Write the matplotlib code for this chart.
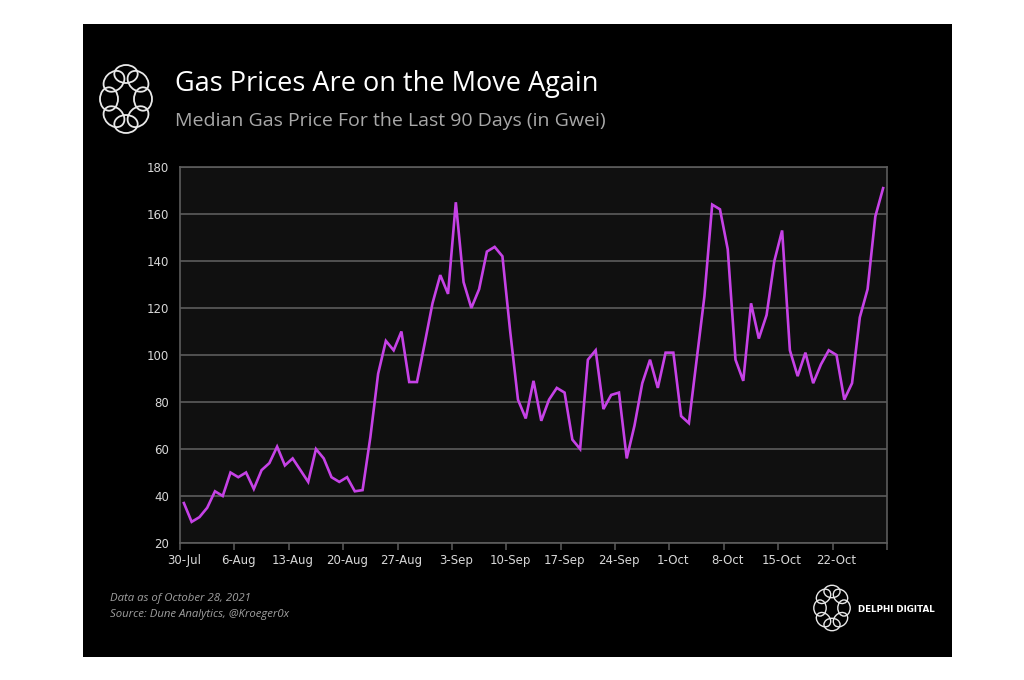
import numpy as np
import matplotlib
matplotlib.use("Agg")
import matplotlib.pyplot as plt
from matplotlib.patches import Rectangle, Ellipse

# median gas price (gwei), one value per day from 30-Jul to 28-Oct 2021
gas_price = [37, 29, 31, 35, 42, 40, 50, 48, 50, 43,
             51, 54, 61, 53, 56, 51, 46, 60, 56, 48,
             46, 48, 42, 42.5, 65, 92, 106, 102, 110, 88.5,
             88.5, 105, 122, 134, 126, 165, 131, 120, 128, 144,
             146, 142, 110, 81, 73, 89, 72, 81, 86, 84,
             64, 60, 98, 102, 77, 83, 84, 56, 70, 88,
             98, 86, 101, 101, 74, 71, 98, 125, 164, 162,
             145, 98, 89, 122, 107, 117, 140, 153, 102, 91,
             101, 88, 96, 102, 100, 81, 88, 116, 128, 159,
             171]
week_labels = ["30-Jul", "6-Aug", "13-Aug", "20-Aug", "27-Aug", "3-Sep", "10-Sep",
               "17-Sep", "24-Sep", "1-Oct", "8-Oct", "15-Oct", "22-Oct"]
y_ticks = [20, 40, 60, 80, 100, 120, 140, 160, 180]

W, H = 1024, 680
fig = plt.figure(figsize=(W / 100, H / 100), dpi=100, facecolor="white")

# black card behind everything
fig.patches.append(Rectangle((83 / W, 1 - 657 / H), (952 - 83) / W, (657 - 24) / H,
                             transform=fig.transFigure, facecolor="black",
                             edgecolor="none", zorder=-5))

ax = fig.add_axes([180 / W, 1 - 543 / H, (887 - 180) / W, (543 - 167) / H])
ax.set_facecolor("#101010")
x = np.arange(len(gas_price))
ax.plot(x, gas_price, color="#C642E6", lw=1.9, solid_joinstyle="miter", zorder=3)

ax.set_xlim(-0.5, len(gas_price) - 0.5)
ax.set_ylim(20, 180)
ax.set_yticks(y_ticks)
ax.set_yticklabels([str(v) for v in y_ticks])
ax.yaxis.grid(True, color="#5c5c5c", lw=1.2)
ax.set_axisbelow(True)

week_pos = np.arange(0, len(gas_price), 7)[:len(week_labels)]
ax.set_xticks(week_pos)
ax.set_xticklabels(week_labels)
ax.set_xticks(np.append(week_pos - 0.5, len(gas_price) - 0.5), minor=True)
ax.tick_params(axis="x", which="major", length=0, pad=8, colors="#d8d8d8", labelsize=8.5)
ax.tick_params(axis="x", which="minor", length=5, width=1.1, color="#5c5c5c")
ax.tick_params(axis="y", length=0, pad=8, colors="#d8d8d8", labelsize=8.5)
for s in ax.spines.values():
    s.set_color("#5c5c5c")
    s.set_linewidth(1.2)


def draw_logo(cx, cy, rx, ry, r, lw):
    pad = r + 3
    lax = fig.add_axes([(cx - rx - pad) / W, 1 - (cy + ry + pad) / H,
                        2 * (rx + pad) / W, 2 * (ry + pad) / H])
    lax.set_xlim(-rx - pad, rx + pad)
    lax.set_ylim(-ry - pad, ry + pad)
    lax.axis("off")
    # ring of interlaced loops
    for a in np.linspace(0, 2 * np.pi, 8, endpoint=False):
        lax.add_patch(Ellipse((rx * np.cos(a), ry * np.sin(a)), 2 * r, 2 * r * 1.3,
                              angle=np.degrees(a), facecolor="none",
                              edgecolor="#e8e8e8", lw=lw))


draw_logo(126, 99, 17, 25, 9, 1.3)
draw_logo(832, 608, 12, 16.5, 6.2, 1.0)

fig.text(175 / W, 1 - 84 / H, "Gas Prices Are on the Move Again", color="white",
         fontsize=19.5, family="Open Sans", va="center", ha="left")
fig.text(175 / W, 1 - 121 / H, "Median Gas Price For the Last 90 Days (in Gwei)",
         color="#a8a8a8", fontsize=14, family="Open Sans", va="center", ha="left")

fig.text(110 / W, 1 - 599 / H, "Data as of October 28, 2021", color="#a0a0a0",
         fontsize=8.2, style="italic", family="Open Sans", va="center")
fig.text(110 / W, 1 - 614 / H, "Source: Dune Analytics, @Kroeger0x", color="#a0a0a0",
         fontsize=8.2, style="italic", family="Open Sans", va="center")
fig.text(858 / W, 1 - 609 / H, "DELPHI DIGITAL", color="white",
         fontsize=6.3, weight="bold", family="DejaVu Sans", va="center")

fig.savefig("out.png", dpi=100, facecolor="white")
